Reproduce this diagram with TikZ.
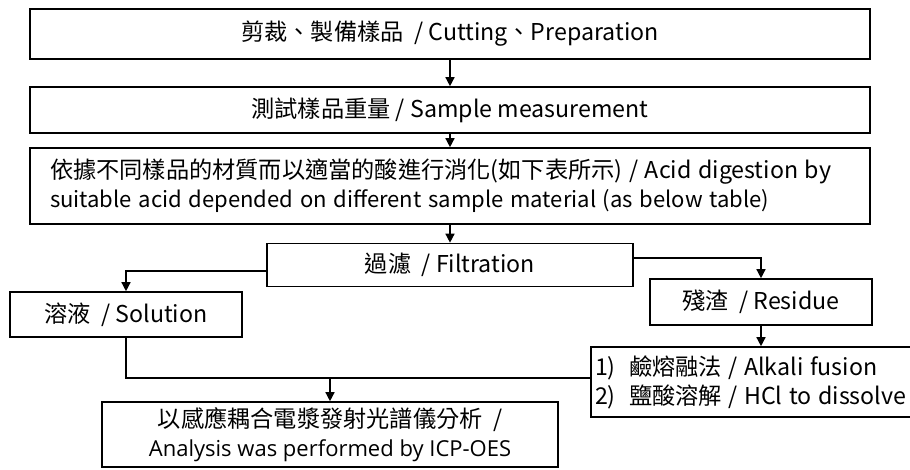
\documentclass[tikz,border=0pt]{standalone}
\usepackage{fontspec}
\setmainfont{Open Sans}
\newfontfamily\cjk[Scale=1.16]{Noto Sans CJK TC}
\usetikzlibrary{arrows.meta}
\begin{document}
\begin{tikzpicture}[x=1pt,y=-1pt,
  flowbox/.style={draw=black, line width=1.6pt, inner sep=0pt, align=center,
    font=\fontsize{20}{29}\selectfont},
  flowline/.style={black, line width=1.4pt},
  flowarrow/.style={flowline, -{Triangle[length=9pt,width=9pt]}}]
\useasboundingbox (0,0) rectangle (910,470);
%
\node[flowbox, minimum width=840pt, minimum height=50pt] (cut) at (450,34)
  {\cjk{剪裁、製備樣品} \ / Cutting\cjk{、}Preparation};
\node[flowbox, minimum width=840pt, minimum height=46pt] (meas) at (450,110)
  {\cjk{測試樣品重量} / Sample measurement};
\node[flowbox, align=left, text width=800pt, inner xsep=20pt, minimum height=76pt] (digest) at (450,186)
  {\cjk{依據不同樣品的材質而以適當的酸進行消化(如下表所示)} / Acid digestion by\\
   {\fontsize{19}{29}\selectfont suitable acid depended on different sample material (as below table)}};
\node[flowbox, minimum width=366pt, minimum height=43pt] (filt) at (450,265)
  {\cjk{過濾} \ / Filtration};
%
\node[flowbox, minimum width=232pt, minimum height=45pt] (sol) at (126,314.5)
  {\cjk{溶液} \ / Solution};
\node[flowbox, minimum width=222pt, minimum height=46pt] (res) at (761,302)
  {\cjk{殘渣} \ / Residue};
\node[flowbox, align=left, text width=312pt, inner xsep=4pt, minimum height=70pt] (alk) at (751,382)
  {\mbox{\cjk{1)}\ \ \cjk{鹼熔融法} / Alkali fusion}\\\mbox{\cjk{2)}\ \ \cjk{鹽酸溶解} / HCl to dissolve}};
\node[flowbox, minimum width=456pt, minimum height=65pt] (ana) at (330,434.5)
  {\cjk{以感應耦合電漿發射光譜儀分析} \ /\\{\fontsize{22}{29}\selectfont Analysis was performed by ICP-OES}};
%
\draw[flowarrow] (cut) -- (meas);
\draw[flowarrow] (meas) -- (digest);
\draw[flowarrow] (digest) -- (filt);
\draw[flowarrow] ([yshift=-6pt]filt.west) -| (sol.north);
\draw[flowarrow] ([yshift=7pt]filt.east) -| (res.north);
\draw[flowarrow] (res) -- (res |- alk.north);
%
\coordinate (feed) at ([yshift=4pt]alk.west);
\draw[flowline] (sol.south) |- (feed);
\draw[flowarrow] (ana.north |- feed) -- (ana.north);
%
\end{tikzpicture}
\end{document}
